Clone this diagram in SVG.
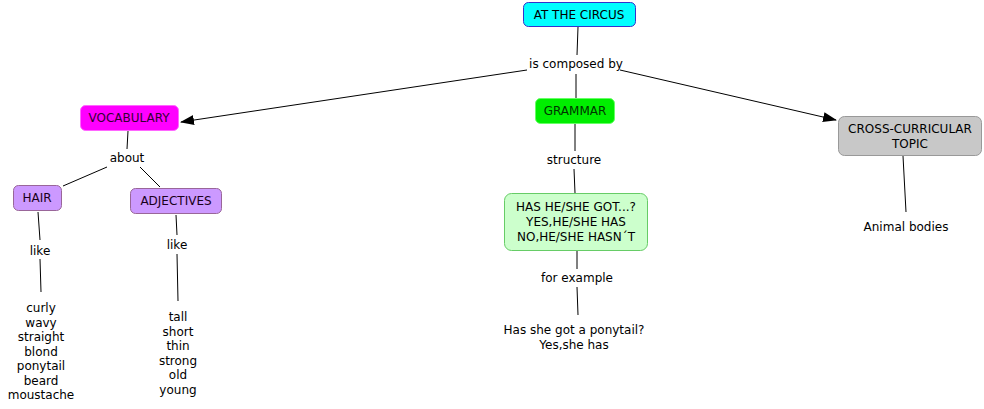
<svg xmlns="http://www.w3.org/2000/svg" width="984" height="409" viewBox="0 0 984 409">
<style>
text{font-family:"DejaVu Sans",Verdana,sans-serif;font-size:12px;fill:#000;text-anchor:middle}
.c{stroke:#000;stroke-width:1;fill:none}
.box{stroke-width:1}
</style>
<defs>
<marker id="arr" markerWidth="14" markerHeight="10" refX="13" refY="5" orient="auto" markerUnits="userSpaceOnUse">
<path d="M0,0 L14,5 L0,10 Z" fill="#000"/>
</marker>
</defs>
<rect width="984" height="409" fill="#fff"/>
<g id="connectors">
<line class="c" x1="578" y1="27" x2="577" y2="55"/>
<line class="c" x1="527" y1="70" x2="181" y2="122" marker-end="url(#arr)"/>
<line class="c" x1="576" y1="74" x2="576" y2="98"/>
<line class="c" x1="620" y1="70" x2="836" y2="120" marker-end="url(#arr)"/>
<line class="c" x1="128" y1="131" x2="127" y2="149"/>
<line class="c" x1="107" y1="167" x2="63" y2="186"/>
<line class="c" x1="140" y1="167" x2="160" y2="187"/>
<line class="c" x1="38" y1="212" x2="40" y2="240"/>
<line class="c" x1="40" y1="259" x2="41" y2="292"/>
<line class="c" x1="176" y1="215" x2="177" y2="235"/>
<line class="c" x1="177" y1="254" x2="178" y2="301"/>
<line class="c" x1="575" y1="124" x2="575" y2="151"/>
<line class="c" x1="574" y1="169" x2="575" y2="193"/>
<line class="c" x1="577" y1="251" x2="577" y2="269"/>
<line class="c" x1="577" y1="287" x2="578" y2="315"/>
<line class="c" x1="903" y1="156" x2="906" y2="212"/>
</g>
<g id="n-circus">
<rect class="box" x="523.5" y="2.5" width="112" height="24" rx="5" fill="#00ffff" stroke="#3333cc"/>
<text x="579" y="19">AT THE CIRCUS</text>
</g>
<g id="l-composed"><text x="576" y="68">is composed by</text></g>
<g id="n-vocabulary">
<rect class="box" x="80.5" y="105.5" width="98" height="25" rx="5" fill="#ff00ff" stroke="#ff66ff"/>
<text x="129" y="122" style="fill:#330033">VOCABULARY</text>
</g>
<g id="n-grammar">
<rect class="box" x="535.5" y="98.5" width="79" height="25" rx="5" fill="#00ee00" stroke="#66ff66"/>
<text x="575" y="115" style="fill:#003300">GRAMMAR</text>
</g>
<g id="n-cross">
<rect class="box" x="838.5" y="116.5" width="143" height="39" rx="6" fill="#c8c8c8" stroke="#999999"/>
<text x="910" y="133">CROSS-CURRICULAR</text>
<text x="910" y="148">TOPIC</text>
</g>
<g id="l-about"><text x="127" y="162">about</text></g>
<g id="n-hair">
<rect class="box" x="13.5" y="185.5" width="48" height="25" rx="5" fill="#cc99ff" stroke="#996699"/>
<text x="37" y="202" style="fill:#1a001a">HAIR</text>
</g>
<g id="n-adjectives">
<rect class="box" x="130.5" y="188.5" width="91" height="25" rx="5" fill="#cc99ff" stroke="#996699"/>
<text x="176" y="205" style="fill:#1a001a">ADJECTIVES</text>
</g>
<g id="l-like1"><text x="40" y="255">like</text></g>
<g id="n-hairlist">
<text x="41" y="312">curly</text>
<text x="41" y="326.5">wavy</text>
<text x="41" y="341">straight</text>
<text x="41" y="355.5">blond</text>
<text x="41" y="370">ponytail</text>
<text x="41" y="384.5">beard</text>
<text x="41" y="399">moustache</text>
</g>
<g id="l-like2"><text x="177" y="249">like</text></g>
<g id="n-adjlist">
<text x="178" y="321">tall</text>
<text x="178" y="335.5">short</text>
<text x="178" y="350">thin</text>
<text x="178" y="364.5">strong</text>
<text x="178" y="379">old</text>
<text x="178" y="393.5">young</text>
</g>
<g id="l-structure"><text x="574" y="164">structure</text></g>
<g id="n-hasgot">
<rect class="box" x="504.5" y="193.5" width="143" height="57" rx="7" fill="#ccffcc" stroke="#66cc66"/>
<text x="576" y="211">HAS HE/SHE GOT...?</text>
<text x="576" y="226">YES,HE/SHE HAS</text>
<text x="576" y="241">NO,HE/SHE HASN´T</text>
</g>
<g id="l-example"><text x="577" y="282">for example</text></g>
<g id="n-example">
<text x="574" y="334">Has she got a ponytail?</text>
<text x="574" y="349">Yes,she has</text>
</g>
<g id="n-animal"><text x="906" y="231">Animal bodies</text></g>
</svg>
